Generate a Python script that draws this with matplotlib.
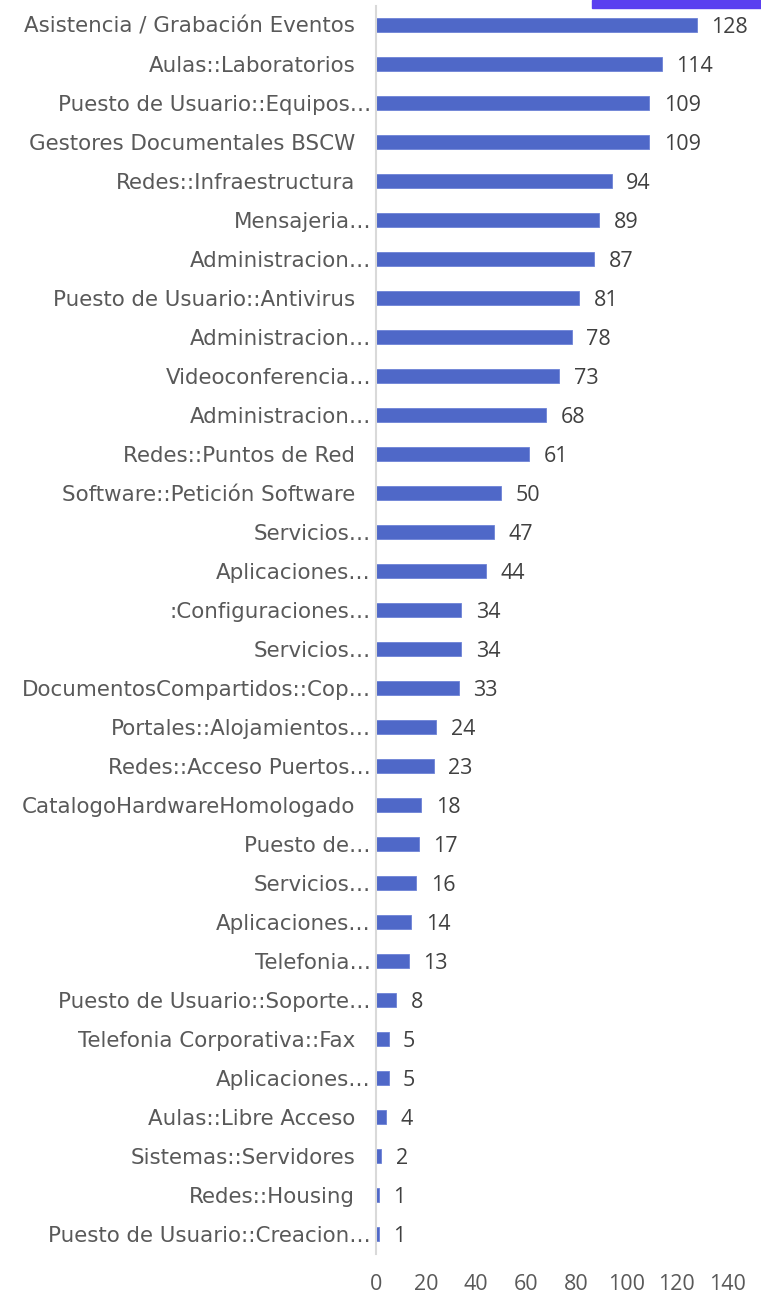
import matplotlib
matplotlib.use("Agg")
import matplotlib.pyplot as plt
from matplotlib.patches import Rectangle

categories = [
    "Asistencia / Grabación Eventos",
    "Aulas::Laboratorios",
    "Puesto de Usuario::Equipos…",
    "Gestores Documentales BSCW",
    "Redes::Infraestructura",
    "Mensajeria…",
    "Administracion…",
    "Puesto de Usuario::Antivirus",
    "Administracion…",
    "Videoconferencia…",
    "Administracion…",
    "Redes::Puntos de Red",
    "Software::Petición Software",
    "Servicios…",
    "Aplicaciones…",
    ":Configuraciones…",
    "Servicios…",
    "DocumentosCompartidos::Cop…",
    "Portales::Alojamientos…",
    "Redes::Acceso Puertos…",
    "CatalogoHardwareHomologado",
    "Puesto de…",
    "Servicios…",
    "Aplicaciones…",
    "Telefonia…",
    "Puesto de Usuario::Soporte…",
    "Telefonia Corporativa::Fax",
    "Aplicaciones…",
    "Aulas::Libre Acceso",
    "Sistemas::Servidores",
    "Redes::Housing",
    "Puesto de Usuario::Creacion…",
]
values = [128, 114, 109, 109, 94, 89, 87, 81, 78, 73, 68, 61, 50, 47, 44, 34,
          34, 33, 24, 23, 18, 17, 16, 14, 13, 8, 5, 5, 4, 2, 1, 1]
x_ticks = [0, 20, 40, 60, 80, 100, 120, 140]

W, H = 761, 1297
fig = plt.figure(figsize=(W / 100, H / 100), dpi=100)
ax_left, ax_right = 376, 727
ax_top, ax_bot = 5.5, 1253.5
ax = fig.add_axes([ax_left / W, 1 - ax_bot / H, (ax_right - ax_left) / W, (ax_bot - ax_top) / H])

text_color = "#595959"
bar_color = "#4f68c8"

pos = list(range(len(categories)))
ax.barh(pos, values, height=0.36, color=bar_color, edgecolor="#6d83d6", linewidth=0.6)
ax.set_ylim(len(categories) - 0.5, -0.5)
ax.set_xlim(0, 140)

ax.set_yticks(pos)
ax.set_yticklabels(categories, fontsize=15.4, color=text_color, family="DejaVu Sans")
for tick, lab in zip(ax.yaxis.get_major_ticks(), categories):
    tick.set_pad(3.6 if lab.endswith("…") else 15)
ax.tick_params(axis="y", length=0)

ax.set_xticks(x_ticks)
ax.set_xticklabels([str(t) for t in x_ticks], fontsize=15.5, color=text_color, family="Open Sans")
ax.tick_params(axis="x", length=0, pad=14.5)

for s in ["top", "right", "bottom"]:
    ax.spines[s].set_visible(False)
ax.spines["left"].set_color("#d9d9d9")
ax.spines["left"].set_linewidth(1.5)

for p, v in zip(pos, values):
    ax.annotate(str(v), xy=(v, p), xytext=(10.5, -1.8), textcoords="offset points",
                va="center", ha="left", fontsize=15.5, color="#404040",
                family="Open Sans", annotation_clip=False)

fig.patches.append(Rectangle((592 / W, 1 - 8 / H), (W - 592) / W, 8 / H,
                             transform=fig.transFigure, color="#5a3ff0", zorder=5))

fig.savefig("out.png", dpi=100)
